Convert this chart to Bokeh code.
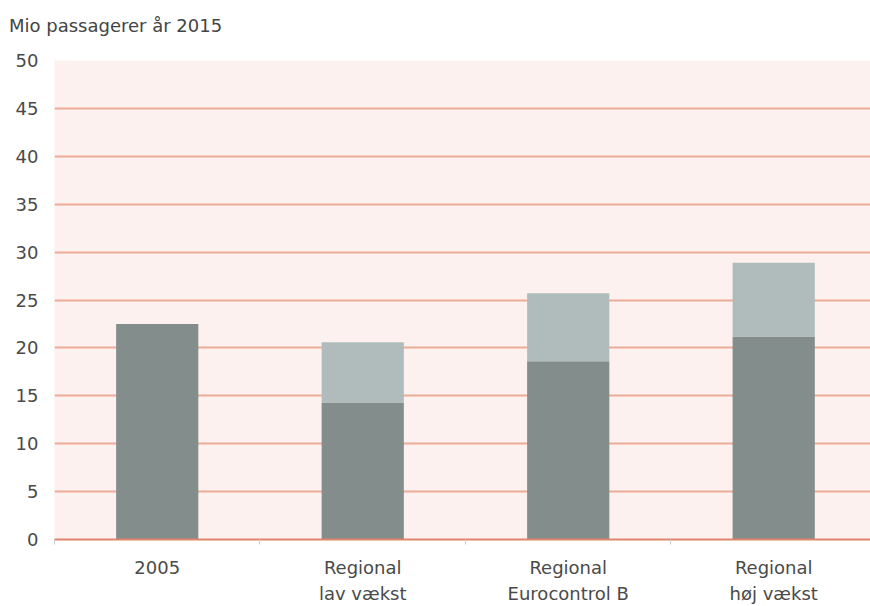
from bokeh.plotting import figure
from bokeh.models import Range1d, FixedTicker, ColumnDataSource, Div
from bokeh.layouts import column
from bokeh.embed import file_html
from bokeh.resources import INLINE

title_text = "Mio passagerer år 2015"
categories = ["2005", "Regional\nlav vækst", "Regional\nEurocontrol B", "Regional\nhøj vækst"]
base_values = [22.5, 14.3, 18.6, 21.2]
growth_values = [0.0, 6.3, 7.1, 7.7]
y_ticks = [0, 5, 10, 15, 20, 25, 30, 35, 40, 45, 50]

x_pos = [i + 0.5 for i in range(len(categories))]
boundaries = [float(i) for i in range(len(categories) + 1)]

source = ColumnDataSource(data=dict(x=x_pos, base=base_values, growth=growth_values))

FONT = "DejaVu Sans"

header = Div(
    text=('<div style="margin:15px 0 0 9px; font-family:\'DejaVu Sans\'; '
          'font-size:18px; line-height:22px; color:#444444; white-space:nowrap;">'
          + title_text + '</div>'),
    width=870, height=40, margin=(0, 0, 0, 0))

p = figure(width=870, height=566, output_backend="svg", toolbar_location=None,
           x_range=Range1d(0, 3.971), y_range=Range1d(0, 50))
p.min_border_left = 54
p.min_border_top = 20
p.min_border_right = 0
p.min_border_bottom = 66
p.margin = (0, 0, 0, 0)

p.background_fill_color = "#fcf1ee"
p.border_fill_color = "white"
p.outline_line_color = None

p.vbar_stack(["base", "growth"], x="x", width=0.4, source=source,
             color=["#828d8c", "#afbcbb"], line_color=None)

# y axis
p.yaxis.ticker = FixedTicker(ticks=y_ticks)
p.yaxis.axis_line_color = None
p.yaxis.major_tick_line_color = None
p.yaxis.major_tick_out = 0
p.yaxis.minor_tick_line_color = None
p.yaxis.major_label_standoff = 16
p.yaxis.major_label_text_font = FONT
p.yaxis.major_label_text_font_size = "18px"
p.yaxis.major_label_text_color = "#4a4a4a"

# x axis
p.xaxis.ticker = FixedTicker(ticks=x_pos, minor_ticks=boundaries)
p.xaxis.major_label_overrides = {x: c for x, c in zip(x_pos, categories)}
p.xaxis.axis_line_color = "#e0846a"
p.xaxis.axis_line_width = 2
p.xaxis.major_tick_line_color = None
p.xaxis.major_tick_out = 0
p.xaxis.major_tick_in = 0
p.xaxis.minor_tick_line_color = "#cccccc"
p.xaxis.minor_tick_in = 0
p.xaxis.minor_tick_out = 5
p.xaxis.major_label_standoff = 12
p.xaxis.major_label_text_font = FONT
p.xaxis.major_label_text_font_size = "18px"
p.xaxis.major_label_text_color = "#4a4a4a"
p.xaxis.major_label_text_line_height = 1.25

p.xgrid.grid_line_color = None
p.ygrid.grid_line_color = "#ecac98"
p.ygrid.grid_line_width = 2

layout = column(header, p, spacing=0)
open("out.html", "w").write(file_html(layout, INLINE))
